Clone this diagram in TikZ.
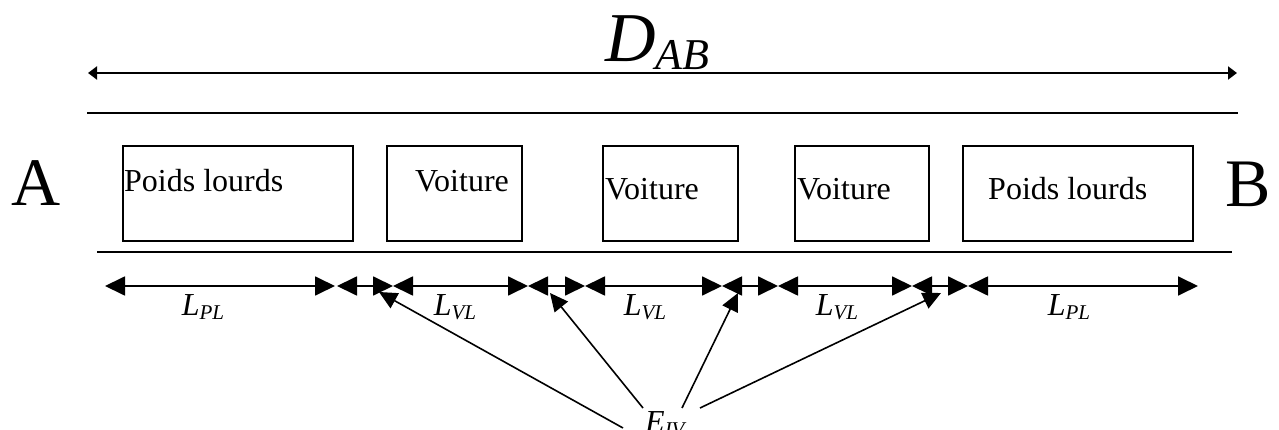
\documentclass[tikz,border=0pt]{standalone}
\usepackage{fontspec}
\setmainfont{Liberation Serif}
\usetikzlibrary{arrows.meta}
\newcommand\txtsz{\fontsize{32}{38}\selectfont}
\newcommand\letsz{\fontsize{68}{70}\selectfont}
\newcommand\dimlbl[2]{{\txtsz\itshape #1\raisebox{-4pt}{\fontsize{21}{21}\selectfont #2}}}
\begin{document}
\begin{tikzpicture}[x=1pt,y=-1pt,
  box/.style={draw, line width=1.8pt, inner sep=0pt, anchor=north west},
  boxtext/.style={anchor=base west, inner sep=0pt, font=\txtsz},
  rule/.style={line width=1.8pt},
  dimarrow/.style={line width=1.8pt, {Triangle[length=20pt,width=19pt]}-{Triangle[length=20pt,width=19pt]}},
  toparrow/.style={line width=2pt, {Triangle[length=9pt,width=13pt]}-{Triangle[length=9pt,width=13pt]}},
  pointer/.style={line width=1.6pt, -{Triangle[length=18pt,width=17pt]}},
  dimtext/.style={anchor=base, inner sep=0pt}]
\useasboundingbox (0,0) rectangle (1279,430);

% title
\node[anchor=base west, inner sep=0pt] (dab) at (605,62)
  {\fontsize{70}{70}\selectfont\itshape D\raisebox{-8pt}{\fontsize{44}{44}\selectfont AB}};
\coordinate (ta) at (88,73);
\coordinate (tb) at (1237,73);
\draw[toparrow] (ta) -- (tb);

% road lines
\coordinate (l1a) at (87,113);
\coordinate (l1b) at (1238,113);
\draw[rule] (l1a) -- (l1b);
\coordinate (l2a) at (97,252);
\coordinate (l2b) at (1232,252);
\draw[rule] (l2a) -- (l2b);

% A and B
\node[anchor=base west, inner sep=0pt, font=\letsz] (A) at (11,206) {A};
\node[anchor=base west, inner sep=0pt, font=\letsz] (B) at (1225,207) {B};

% vehicles
\node[box, minimum width=230pt, minimum height=95pt] (v1) at (122,145) {};
\node[box, minimum width=135pt, minimum height=95pt] (v2) at (386,145) {};
\node[box, minimum width=135pt, minimum height=95pt] (v3) at (602,145) {};
\node[box, minimum width=134pt, minimum height=95pt] (v4) at (794,145) {};
\node[box, minimum width=230pt, minimum height=95pt] (v5) at (962,145) {};
\node[boxtext] (t1) at (124,192) {Poids lourds};
\node[boxtext] (t2) at (415,192) {Voiture};
\node[boxtext] (t3) at (605,200) {Voiture};
\node[boxtext] (t4) at (797,200) {Voiture};
\node[boxtext] (t5) at (988,200) {Poids lourds};

% dimension points
\coordinate (d0) at (105,286);
\coordinate (d1) at (335,286);
\coordinate (d1b) at (337,286);
\coordinate (d2) at (393,286);
\coordinate (d3) at (528,286);
\coordinate (d4) at (585,286);
\coordinate (d5) at (722,286);
\coordinate (d6) at (778,286);
\coordinate (d7) at (912,286);
\coordinate (d8) at (968,286);
\coordinate (d9) at (1198,286);
\draw[dimarrow] (d0) -- (d1);
\draw[dimarrow] (d1b) -- (d2);
\draw[dimarrow] (d2) -- (d3);
\draw[dimarrow] (d3) -- (d4);
\draw[dimarrow] (d4) -- (d5);
\draw[dimarrow] (d5) -- (d6);
\draw[dimarrow] (d6) -- (d7);
\draw[dimarrow] (d7) -- (d8);
\draw[dimarrow] (d8) -- (d9);

\node[dimtext] (lpl1) at (203,316) {\dimlbl{L}{PL}};
\node[dimtext] (lvl1) at (455,316) {\dimlbl{L}{VL}};
\node[dimtext] (lvl2) at (645,316) {\dimlbl{L}{VL}};
\node[dimtext] (lvl3) at (837,316) {\dimlbl{L}{VL}};
\node[dimtext] (lpl2) at (1069,316) {\dimlbl{L}{PL}};

% inter-vehicle gaps
\node[anchor=base west, inner sep=0pt] (eiv) at (645,432) {\dimlbl{E}{IV}};
\coordinate (e1) at (623,428);
\coordinate (e2) at (643,408);
\coordinate (e3) at (682,408);
\coordinate (e4) at (700,408);
\coordinate (p1) at (379,292);
\coordinate (p2) at (550,293);
\coordinate (p3) at (738,293);
\coordinate (p4) at (941,293);
\draw[pointer] (e1) -- (p1);
\draw[pointer] (e2) -- (p2);
\draw[pointer] (e3) -- (p3);
\draw[pointer] (e4) -- (p4);
\end{tikzpicture}
\end{document}
